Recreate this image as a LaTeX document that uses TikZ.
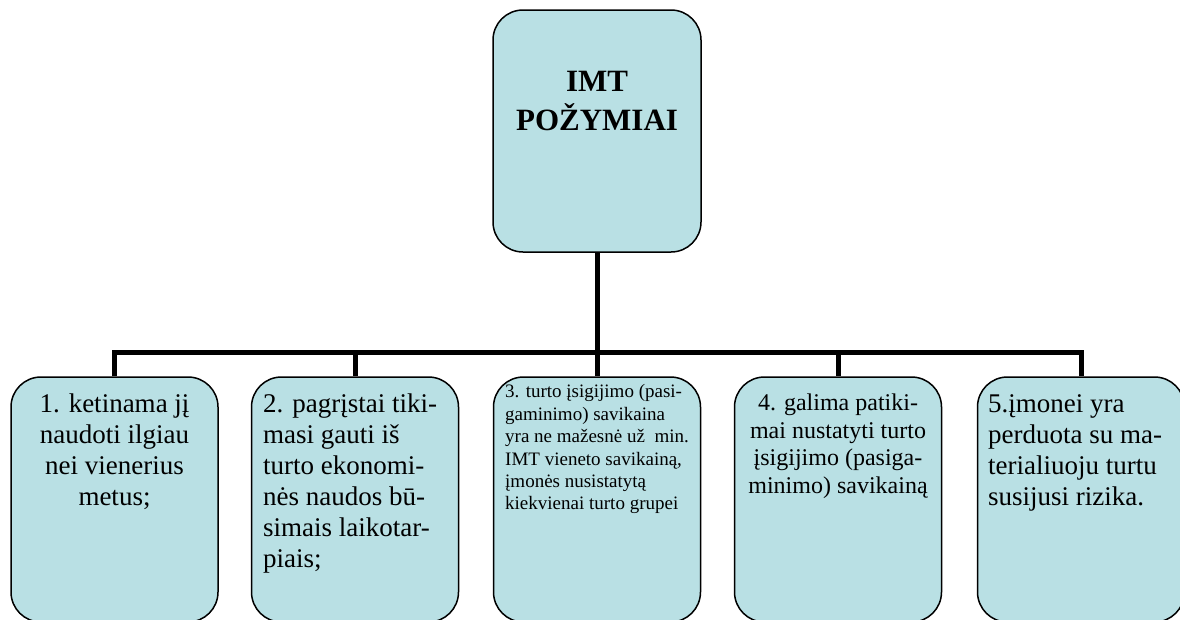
\documentclass[tikz,border=0pt]{standalone}
\usepackage{fontspec}
\setmainfont{Liberation Serif}
\definecolor{boxfill}{RGB}{185,224,228}
\begin{document}
\begin{tikzpicture}[x=1pt, y=-1pt,
    card/.style={draw, fill=boxfill, line width=1.5pt, rounded corners=30pt,
      inner sep=0pt, minimum width=207pt, minimum height=245pt},
    link/.style={line width=5pt},
    words/.style={inner sep=0pt, font={\fontsize{27}{31}\selectfont}}]
  \useasboundingbox (0,0) rectangle (1180,619);

  \node[card, minimum width=208pt, minimum height=242pt] (pozymiai) at (597,131) {};
  \foreach \i/\x in {1/114.5, 2/355, 3/597, 4/838, 5/1081} {
    \node[card] (p\i) at (\x,499.5) {}; % one box per trait
  }

  \coordinate (bus) at (597,352);
  \draw[link] (pozymiai.south) -- (bus);
  \draw[link] (p1.north) -- (p1.north |- bus) -- (p5.north |- bus) -- (p5.north);
  \foreach \i in {2,3,4} {
    \draw[link] (p\i.north |- bus) -- (p\i.north);
  }

  \node[words, anchor=north, align=center, font={\fontsize{31}{37}\selectfont\bfseries}]
    (t0) at (597,65) {\strut IMT\\PO\v{Z}YMIAI};
  \node[words, anchor=north, align=center] (t1) at (114.5,391)
    {\strut 1. ketinama jį\\naudoti ilgiau\\nei vienerius\\metus;};
  \node[words, anchor=north west, align=left] (t2) at (263,391)
    {\strut 2. pagrįstai tiki-\\masi gauti iš\\turto ekonomi-\\nės naudos bū-\\simais laikotar-\\piais;};
  \node[words, anchor=north west, align=left, font={\fontsize{19}{22.4}\selectfont}] (t3) at (505,382)
    {\strut 3. turto įsigijimo (pasi-\\gaminimo) savikaina\\yra ne mažesnė už\ \ min.\\IMT vieneto savikainą,\\įmonės nusistatytą\\kiekvienai turto grupei};
  \node[words, anchor=north, align=center, font={\fontsize{24}{27.7}\selectfont}] (t4) at (838,391)
    {\strut 4. galima patiki-\\mai nustatyti turto\\įsigijimo (pasiga-\\minimo) savikainą};
  \node[words, anchor=north west, align=left] (t5) at (988,391)
    {\strut 5.įmonei yra\\perduota su ma-\\terialiuoju turtu\\susijusi rizika.};
\end{tikzpicture}
\end{document}
